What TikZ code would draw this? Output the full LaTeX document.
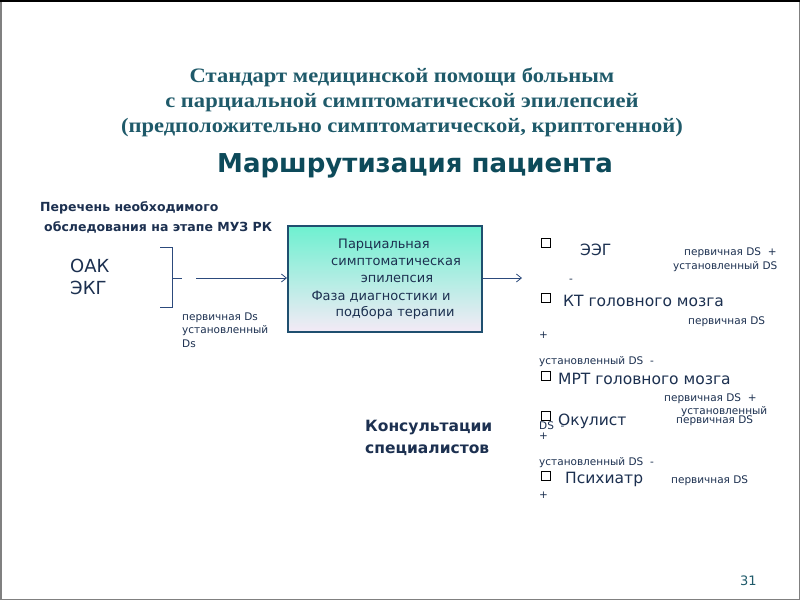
\documentclass[tikz,border=0pt]{standalone}
\usepackage{fontspec}
\setmainfont{DejaVu Sans}
\newfontfamily\ttl[FakeStretch=1.1]{Liberation Serif}
\usetikzlibrary{arrows.meta}
\definecolor{navy}{HTML}{1C3050}
\definecolor{ttlc}{HTML}{1F5A6A}
\definecolor{hdc}{HTML}{0D4A5A}
\definecolor{ln}{HTML}{2C4A7C}
\begin{document}
\begin{tikzpicture}[x=1pt,y=-1pt,
  t/.style={anchor=west,inner sep=0pt,text=navy,font=\fontsize{13}{15}\selectfont},
  sm/.style={anchor=west,inner sep=0pt,text=navy,font=\fontsize{10.5}{12}\selectfont},
  big/.style={anchor=west,inner sep=0pt,text=navy,font=\fontsize{15.5}{18}\selectfont},
  cb/.style={draw=black,line width=1.5pt,minimum size=9pt,inner sep=0pt},
  arr/.style={ln,line width=0.8pt,-{Straight Barb[length=5pt,width=8pt]}}]
\useasboundingbox (0,0) rectangle (800,600);
\fill[white] (0,0) rectangle (800,600);
\draw[gray,line width=1.5pt] (0.75,0.75) rectangle (799.25,599.25);
\draw[black,line width=1.5pt] (0,0.75) -- (800,0.75);
% titles
\node[text=ttlc,font=\ttl\bfseries\fontsize{20.5}{25}\selectfont,align=center] (ttl) at (402,102)
 {Стандарт медицинской помощи больным\\с парциальной симптоматической эпилепсией\\(предположительно симптоматической, криптогенной)};
\node[text=hdc,font=\bfseries\fontsize{26}{30}\selectfont] (hd) at (415,166) {Маршрутизация пациента};
\node[t,font=\bfseries\fontsize{12.5}{14}\selectfont] (p1) at (40,208) {Перечень необходимого};
\node[t,font=\bfseries\fontsize{12.5}{14}\selectfont] (p2) at (44,227) {обследования на этапе МУЗ РК};
\node[t,font=\fontsize{18}{21}\selectfont] (oak) at (70,266) {ОАК};
\node[t,font=\fontsize{18}{21}\selectfont] (ekg) at (70,288) {ЭКГ};
% bracket
\coordinate (b1) at (160,247); \coordinate (b2) at (172,247);
\coordinate (b3) at (172,307); \coordinate (b4) at (160,307);
\coordinate (bm) at (172,278); \coordinate (bt) at (182,278);
\draw[ln,line width=0.8pt] (b1) -- (b2) -- (b3) -- (b4);
\draw[ln,line width=0.8pt] (bm) -- (bt);
\coordinate (a0) at (196,278);
\node[sm] (pd1) at (182,318) {первичная Ds};
\node[sm] (pd2) at (182,331) {установленный};
\node[sm] (pd3) at (182,344) {Ds};
% box
\shade[top color={rgb,255:red,110;green,240;blue,208},bottom color={rgb,255:red,244;green,234;blue,246}] (288,226) rectangle (482,332);
\node[draw={rgb,255:red,31;green,79;blue,111},line width=2pt,minimum width=194pt,minimum height=106pt,inner sep=0pt] (box) at (385,279) {};
\node[t,anchor=center] (x1) at (384,245) {Парциальная};
\node[t,anchor=center] (x2) at (396,262) {симптоматическая};
\node[t,anchor=center] (x3) at (397,279) {эпилепсия};
\node[t,anchor=center] (x4) at (381,297) {Фаза диагностики и};
\node[t,anchor=center] (x5) at (395,313) {подбора терапии};
\draw[arr] (a0) -- (box.west |- a0);
\coordinate (a1) at (522,278);
\draw[arr] (box.east |- a1) -- (a1);
% list
\node[cb] (c1) at (546,243) {};
\node[big] (l1) at (580,250) {ЭЭГ};
\node[sm] (s1) at (684,253) {первичная DS \ +};
\node[sm] (s2) at (673,267) {установленный DS};
\node[sm] (s3) at (569,281) {-};
\node[cb] (c2) at (546,298) {};
\node[big] (l2) at (563,301) {КТ головного мозга};
\node[sm] (s4) at (688,322) {первичная DS};
\node[sm] (s5) at (539,335) {+};
\node[sm] (s6) at (539,362) {установленный DS \ -};
\node[cb] (c3) at (546,376) {};
\node[big] (l3) at (558,379) {МРТ головного мозга};
\node[sm] (s7) at (664,399) {первичная DS \ +};
\node[sm] (s8) at (681,412) {установленный};
\node[cb] (c4) at (546,416) {};
\node[big] (l4) at (558,421) {Окулист};
\node[sm] (s9) at (539,426) {DS \ -};
\node[sm] (s10) at (676,421) {первичная DS};
\node[sm] (s11) at (539,436) {+};
\node[sm] (s12) at (539,463) {установленный DS \ -};
\node[cb] (c5) at (546,476) {};
\node[big] (l5) at (565,479) {Психиатр};
\node[sm] (s13) at (671,481) {первичная DS};
\node[sm] (s14) at (539,495) {+};
% consult
\node[t,font=\bfseries\fontsize{15.5}{18}\selectfont] (k1) at (365,428) {Консультации};
\node[t,font=\bfseries\fontsize{15.5}{18}\selectfont] (k2) at (365,450) {специалистов};
\node[t,text=ttlc] (num) at (740,581) {31};
\end{tikzpicture}
\end{document}
